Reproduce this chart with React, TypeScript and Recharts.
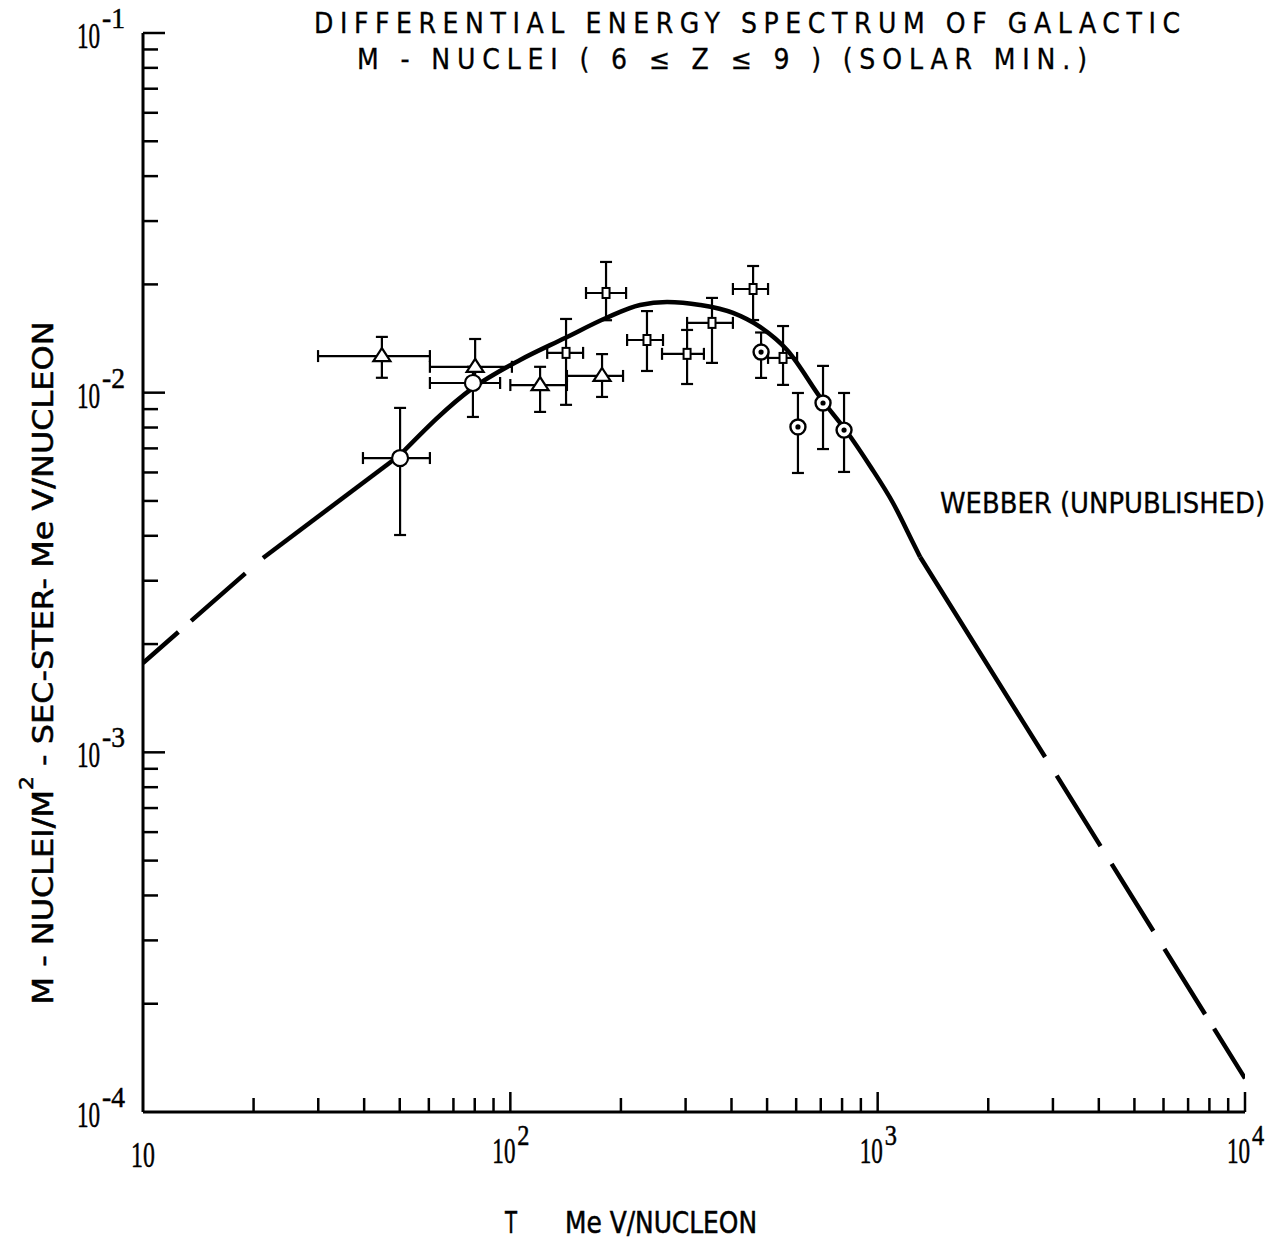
import React from 'react';
import { ComposedChart, Line, Scatter, XAxis, YAxis, ErrorBar } from 'recharts';

// ---- Fitted curve (Webber, unpublished) ----
const curveLeftX = [10, 21.22];
const curveLeftY = [0.001772, 0.003471];
const curveRiseX = [21.22, 50.1];
const curveRiseY = [0.003471, 0.006711];
const curvePeakX = [50.1, 79.14, 106.3, 140.9, 182.2, 225.5, 267.1, 328.5, 403.9, 478.4, 566.7, 705.8, 825.3, 953.5, 1101, 1249, 1305];
const curvePeakY = [0.006711, 0.01031, 0.01233, 0.01419, 0.01613, 0.01753, 0.01787, 0.01753, 0.01666, 0.01523, 0.01314, 0.009543, 0.007775, 0.006254, 0.004935, 0.003821, 0.003493];
const curveFallX = [1305, 2488, 2856];
const curveFallY = [0.003493, 0.001215, 0.000971];
const curveRightX = [2856, 10000];
const curveRightY = [0.000971, 0.000124];

// ---- Triangles ----
const triX = [44.7, 80.2, 120.5, 177.7];
const triY = [0.01264, 0.0118, 0.0105, 0.01113];
const triXLo = [29.96, 60.4, 100, 142.6];
const triXHi = [60.4, 101, 142.6, 202.7];
const triYLo = [0.011, 0.0108, 0.00884, 0.00973];
const triYHi = [0.01429, 0.0141, 0.0118, 0.0128];

// ---- Open circles ----
const circX = [50.1, 79.1];
const circY = [0.00658, 0.01064];
const circXLo = [39.7, 60.4];
const circXHi = [60.4, 93.8];
const circYLo = [0.00402, 0.00856];
const circYHi = [0.00907, 0.0118];

// ---- Open squares ----
const sqX = [141.8, 182.2, 235.5, 302.8, 354, 458, 552.6];
const sqY = [0.0129, 0.01893, 0.01401, 0.01282, 0.01563, 0.01942, 0.01249];
const sqXLo = [126, 160.7, 207.9, 258.8, 302.8, 403.6, 503];
const sqXHi = [157.8, 206.6, 260.4, 336.5, 403.6, 503, 603.5];
const sqYLo = [0.00925, 0.0159, 0.01149, 0.01057, 0.0121, 0.01592, 0.01051];
const sqYHi = [0.01603, 0.02309, 0.01686, 0.01494, 0.01834, 0.0225, 0.01532];

// ---- Dotted circles ----
const dotX = [481.5, 606.7, 710, 810];
const dotY = [0.01297, 0.00803, 0.00936, 0.00787];
const dotYLo = [0.01099, 0.00598, 0.00697, 0.00602];
const dotYHi = [0.0147, 0.00998, 0.01187, 0.00998];

// ---- Ticks ----
const xTicks = [10, 20, 30, 40, 50, 60, 70, 80, 90, 100, 200, 300, 400, 500, 600, 700, 800, 900, 1000, 2000, 3000, 4000, 5000, 6000, 7000, 8000, 9000, 10000];
const xMajorTicks = [10, 100, 1000, 10000];
const xMajorExponents = ['', '2', '3', '4'];
const yTicks = [0.0001, 0.0002, 0.0003, 0.0004, 0.0005, 0.0006, 0.0007, 0.0008, 0.0009, 0.001, 0.002, 0.003, 0.004, 0.005, 0.006, 0.007, 0.008, 0.009, 0.01, 0.02, 0.03, 0.04, 0.05, 0.06, 0.07, 0.08, 0.09, 0.1];
const yMajorTicks = [0.1, 0.01, 0.001, 0.0001];
const yMajorExponents = ['-1', '-2', '-3', '-4'];

const titleLine1 = 'DIFFERENTIAL ENERGY SPECTRUM OF GALACTIC';
const titleLine2 = 'M - NUCLEI ( 6 \u2264 Z \u2264 9 ) (SOLAR MIN.)';
const annotation = 'WEBBER (UNPUBLISHED)';

const pts = (xs: number[], ys: number[]) => xs.map((x, i) => ({ x, y: ys[i] }));
const withErr = (xs: number[], ys: number[], yLo: number[], yHi: number[], xLo?: number[], xHi?: number[]) =>
  xs.map((x, i) => ({
    x,
    y: ys[i],
    ey: [ys[i] - yLo[i], yHi[i] - ys[i]],
    ex: xLo && xHi ? [x - xLo[i], xHi[i] - x] : [0, 0],
  }));

const leftData = pts(curveLeftX, curveLeftY);
const riseData = pts(curveRiseX, curveRiseY);
const peakData = pts(curvePeakX, curvePeakY);
const fallData = pts(curveFallX, curveFallY);
const rightData = pts(curveRightX, curveRightY);
const triData = withErr(triX, triY, triYLo, triYHi, triXLo, triXHi);
const circData = withErr(circX, circY, circYLo, circYHi, circXLo, circXHi);
const sqData = withErr(sqX, sqY, sqYLo, sqYHi, sqXLo, sqXHi);
const dotData = withErr(dotX, dotY, dotYLo, dotYHi);

const SANS = "'Liberation Sans Narrow', 'DejaVu Sans Condensed', 'Liberation Sans', sans-serif";
const SERIF = "'Liberation Serif', 'DejaVu Serif', serif";

const Triangle = (p: any) => (
  <polygon
    points={`${p.cx},${p.cy - 8} ${p.cx - 8.5},${p.cy + 5} ${p.cx + 8.5},${p.cy + 5}`}
    fill="#fff"
    stroke="#000"
    strokeWidth={2.2}
  />
);
const OpenCircle = (p: any) => <circle cx={p.cx} cy={p.cy} r={8} fill="#fff" stroke="#000" strokeWidth={2.2} />;
const OpenSquare = (p: any) => (
  <rect x={p.cx - 3.5} y={p.cy - 5} width={7} height={10} fill="#fff" stroke="#000" strokeWidth={2} />
);
const DotCircle = (p: any) => (
  <g>
    <circle cx={p.cx} cy={p.cy} r={7.5} fill="#fff" stroke="#000" strokeWidth={2.4} />
    <circle cx={p.cx} cy={p.cy} r={2.6} fill="#000" />
  </g>
);

const labelProps = { fontFamily: SERIF, fill: '#000', stroke: '#000', strokeWidth: 0.5 };

const XTick = (props: any) => {
  const { x, y, payload } = props;
  const v = payload.value;
  const idx = xMajorTicks.indexOf(v);
  const major = idx >= 0;
  return (
    <g>
      {v !== 10 && (
        <line x1={x} x2={x} y1={y} y2={y - (major ? 20 : 14)} stroke="#000" strokeWidth={2.5} />
      )}
      {major && idx === 0 && (
        <text transform={`translate(${x - 12},${y + 55}) scale(0.68,1)`} fontSize={35} {...labelProps}>
          10
        </text>
      )}
      {major && idx > 0 && (
        <g>
          <text transform={`translate(${x - 18},${y + 51}) scale(0.66,1)`} fontSize={35} {...labelProps}>
            10
          </text>
          <text transform={`translate(${x + 7},${y + 33}) scale(0.84,1)`} fontSize={29} {...labelProps}>
            {xMajorExponents[idx]}
          </text>
        </g>
      )}
    </g>
  );
};

const YTick = (props: any) => {
  const { x, y, payload } = props;
  const v = payload.value;
  const idx = yMajorTicks.findIndex((m) => Math.abs(m - v) / m < 1e-6);
  const major = idx >= 0;
  return (
    <g>
      {idx !== 3 && <line x1={x} x2={x + (major ? 22 : 15)} y1={y} y2={y} stroke="#000" strokeWidth={2.5} />}
      {major && (
        <g>
          <text transform={`translate(${x - 66},${y + 15}) scale(0.66,1)`} fontSize={35} {...labelProps}>
            10
          </text>
          <text transform={`translate(${x - 41},${y - 5}) scale(0.95,1)`} fontSize={29} {...labelProps}>
            {yMajorExponents[idx]}
          </text>
        </g>
      )}
    </g>
  );
};

const lineCommon = { stroke: '#000', strokeWidth: 4.5, dot: false, activeDot: false, isAnimationActive: false, dataKey: 'y' };

export default function App() {
  return (
    <div style={{ position: 'absolute', left: 0, top: 0, width: 1277, height: 1240, background: '#fff' }}>
      <ComposedChart width={1277} height={1240} margin={{ top: 33, right: 32, bottom: 0, left: 0 }}>
        <XAxis
          dataKey="x"
          type="number"
          scale="log"
          domain={[10, 10000]}
          allowDataOverflow
          ticks={xTicks}
          interval={0}
          height={128}
          tickSize={0}
          tickMargin={0}
          tickLine={false}
          axisLine={{ stroke: '#000', strokeWidth: 3 }}
          tick={<XTick />}
        />
        <YAxis
          type="number"
          scale="log"
          domain={[0.0001, 0.1]}
          allowDataOverflow
          ticks={yTicks}
          interval={0}
          width={143}
          tickSize={0}
          tickMargin={0}
          tickLine={false}
          axisLine={{ stroke: '#000', strokeWidth: 3 }}
          tick={<YTick />}
        />
        <Line data={leftData} type="linear" strokeDasharray="47 17 72 24" {...lineCommon} />
        <Line data={riseData} type="linear" {...lineCommon} />
        <Line data={peakData} type="monotoneX" {...lineCommon} />
        <Line data={fallData} type="linear" {...lineCommon} />
        <Line data={rightData} type="linear" strokeDasharray="0 22 83 21 79 21 77 17 80" {...lineCommon} />
        <Scatter data={triData} dataKey="y" shape={Triangle} isAnimationActive={false}>
          <ErrorBar dataKey="ey" direction="y" width={6} stroke="#000" strokeWidth={2.2} />
          <ErrorBar dataKey="ex" direction="x" width={6} stroke="#000" strokeWidth={2.2} />
        </Scatter>
        <Scatter data={circData} dataKey="y" shape={OpenCircle} isAnimationActive={false}>
          <ErrorBar dataKey="ey" direction="y" width={6} stroke="#000" strokeWidth={2.2} />
          <ErrorBar dataKey="ex" direction="x" width={6} stroke="#000" strokeWidth={2.2} />
        </Scatter>
        <Scatter data={sqData} dataKey="y" shape={OpenSquare} isAnimationActive={false}>
          <ErrorBar dataKey="ey" direction="y" width={6} stroke="#000" strokeWidth={2.2} />
          <ErrorBar dataKey="ex" direction="x" width={6} stroke="#000" strokeWidth={2.2} />
        </Scatter>
        <Scatter data={dotData} dataKey="y" shape={DotCircle} isAnimationActive={false}>
          <ErrorBar dataKey="ey" direction="y" width={6} stroke="#000" strokeWidth={2.2} />
        </Scatter>
      </ComposedChart>
      <svg width={1277} height={1240} style={{ position: 'absolute', left: 0, top: 0, pointerEvents: 'none' }}>
        <text x={314} y={33} fontFamily={SANS} fontSize={28} textLength={866} lengthAdjust="spacing" fill="#000" stroke="#000" strokeWidth={0.3}>
          {titleLine1}
        </text>
        <text x={357} y={69} fontFamily={SANS} fontSize={28} textLength={730} lengthAdjust="spacing" fill="#000" stroke="#000" strokeWidth={0.3}>
          {titleLine2}
        </text>
        <text x={940} y={513} fontFamily={SANS} fontSize={28} textLength={325} lengthAdjust="spacingAndGlyphs" fill="#000" stroke="#000" strokeWidth={0.3}>
          {annotation}
        </text>
        <text x={505} y={1233} fontFamily={SANS} fontSize={30} textLength={12} lengthAdjust="spacingAndGlyphs" fill="#000" stroke="#000" strokeWidth={0.5}>
          T
        </text>
        <text x={565} y={1233} fontFamily={SANS} fontSize={30} textLength={192} lengthAdjust="spacingAndGlyphs" fill="#000" stroke="#000" strokeWidth={0.5}>
          Me V/NUCLEON
        </text>
        <text
          x={53}
          y={663}
          transform="rotate(-90 53 663)"
          textAnchor="middle"
          fontFamily={SANS}
          fontSize={29}
          textLength={683}
          lengthAdjust="spacingAndGlyphs"
          fill="#000"
          stroke="#000"
          strokeWidth={0.5}
        >
          M - NUCLEI/M
          <tspan dy={-20} fontSize={20}>2</tspan>
          <tspan dy={20}> - SEC-STER- Me V/NUCLEON</tspan>
        </text>
      </svg>
    </div>
  );
}
